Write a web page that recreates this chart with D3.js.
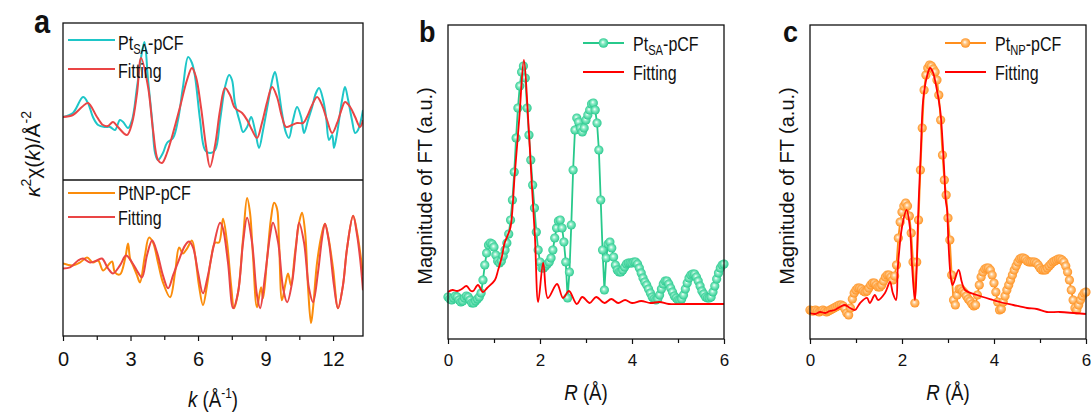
<!DOCTYPE html>
<html>
<head>
<meta charset="utf-8">
<script src="https://d3js.org/d3.v7.min.js"></script>
<style>
body { margin: 0; background: #fff; }
text { font-family: "Liberation Sans", Arial, sans-serif; }
</style>
</head>
<body>
<div id="chart"></div>
<script>
// ---- panel a : k-space, Pt_SA-pCF (top) and PtNP-pCF (bottom)
var kSA = [0,0.44,0.89,1.11,1.33,1.56,1.87,2.09,2.31,2.53,2.67,2.89,3.07,3.29,3.51,3.62,3.78,3.96,4.09,4.22,4.44,4.62,4.89,5.11,5.33,5.56,5.73,5.87,6.09,6.31,6.53,6.76,6.98,7.2,7.38,7.51,7.64,7.87,8.0,8.18,8.36,8.53,8.71,8.89,9.11,9.33,9.42,9.56,9.73,9.91,10.04,10.22,10.4,10.58,10.71,10.89,11.07,11.24,11.38,11.56,11.69,11.82,11.96,12.04,12.18,12.4,12.53,12.67,12.84,12.98,13.11,13.33];
var chiSA = [-1.6,-1.2,0.4,-0.2,-1.6,-2.4,-2.6,-2.6,-2.9,-1.9,-2.1,-2.7,-1.9,1.4,4.9,5.9,2.1,-1.9,-5.2,-5.9,-5.2,-4.2,-3.7,-1.9,1.4,4.4,3.8,2.4,-1.9,-4.9,-5.2,-4.9,-1.9,1.4,2.6,2.1,-0.2,-2.2,-3.1,-2.6,-1.6,-2.9,-4.7,-2.9,-0.2,2.4,2.9,1.4,-1.2,-3.2,-3.7,-1.9,-0.6,-1.6,-3.2,-1.9,-0.6,0.8,1.3,0.1,-1.6,-3.9,-3.4,-4.7,-3.2,0.1,1.4,0.1,-1.9,-3.2,-2.9,-0.9];
var kSAFit = [0,0.44,0.84,1.11,1.51,1.78,2.0,2.22,2.44,2.84,3.07,3.29,3.47,3.78,4.0,4.22,4.4,4.62,4.89,5.2,5.51,5.73,5.91,6.13,6.36,6.53,6.76,6.98,7.2,7.42,7.64,7.96,8.18,8.4,8.62,8.84,9.07,9.29,9.51,9.73,9.91,10.18,10.4,10.67,10.84,11.07,11.29,11.51,11.73,11.96,12.18,12.4,12.53,12.76,12.98,13.2,13.33];
var chiSAFit = [-1.6,-1.4,-0.6,-0.2,-1.6,-2.4,-2.5,-2.1,-2.6,-3.4,-2.2,0.8,4.3,1.4,-2.9,-5.9,-6.2,-5.2,-3.2,-0.6,2.1,3.3,2.4,-0.6,-4.6,-6.6,-4.4,-0.9,1.3,0.6,-0.7,-1.2,-1.9,-2.9,-3.7,-2.2,-0.1,1.4,0.4,-1.6,-2.6,-2.4,-2.2,-2.2,-1.6,-0.4,0.4,-0.4,-1.9,-3.2,-2.2,-0.7,-0.1,-0.6,-1.6,-2.6,-1.9];
var kNP = [0,0.44,0.76,1.07,1.33,1.56,1.78,2.0,2.18,2.31,2.53,2.76,2.89,2.98,3.11,3.29,3.42,3.64,3.82,4.0,4.22,4.44,4.76,4.98,5.16,5.33,5.51,5.73,5.87,6.04,6.22,6.4,6.58,6.76,6.93,7.11,7.29,7.47,7.6,7.78,8.0,8.18,8.31,8.44,8.62,8.8,8.89,9.07,9.24,9.38,9.51,9.6,9.73,9.87,10.0,10.13,10.31,10.49,10.62,10.76,10.89,11.02,11.11,11.29,11.51,11.64,11.78,12.0,12.22,12.44,12.62,12.89,13.07,13.24,13.33];
var chiNP = [-0.6,-0.8,-0.5,0,-0.5,-0.3,-1.3,-0.8,-0.4,-1.5,-1.7,-0.1,1.4,-0.1,-0.8,-1.8,-2.5,0.2,2.0,1.5,-0.5,-2.5,-4.0,-1.5,1.0,0.4,0.9,1.7,0.2,-2.8,-4.8,-2.8,-0.1,1.5,1.5,3.9,1.5,-2.8,-5.1,-3.5,1.9,6.0,4.5,0.2,-5.0,-3.0,-4.1,-0.1,3.9,5.5,4.9,1.5,-4.3,-2.8,-1.6,-2.8,0.5,3.5,4.5,2.5,-3.1,-6.6,-5.1,-0.5,2.5,3.4,2.2,-1.1,-5.1,-2.8,0.9,4.2,2.5,-0.1,-1.8];
var kNPFit = [0,0.31,0.67,0.89,1.2,1.51,1.73,2.0,2.22,2.53,2.8,3.07,3.33,3.51,3.73,3.96,4.18,4.44,4.67,4.89,5.11,5.42,5.6,5.78,6.0,6.22,6.44,6.67,6.98,7.11,7.33,7.56,7.78,8.0,8.18,8.4,8.62,8.76,8.98,9.2,9.33,9.56,9.78,9.96,10.18,10.36,10.49,10.71,10.93,11.11,11.33,11.51,11.64,11.82,12.04,12.22,12.44,12.62,12.89,13.07,13.2,13.33];
var chiNPFit = [-1.1,-1.0,-0.3,-0.1,-0.5,-0.3,-0.1,-1.1,-1.6,-0.8,0.2,-0.5,-1.5,-2.0,0.2,1.7,0.5,-1.8,-3.1,-1.8,-0.5,1.2,1.6,1.0,-1.5,-3.6,-1.8,0.9,3.5,2.9,-0.5,-5.1,-3.5,1.5,4.0,1.5,-3.8,-5.1,-1.8,2.2,3.5,1.5,-3.1,-4.5,-2.5,1.2,3.5,1.5,-3.1,-4.5,-1.5,1.9,3.4,1.5,-2.8,-5.1,-2.8,0.9,4.2,2.2,-0.1,-3.3];
var kTicks = [0, 3, 6, 9, 12];
var kMinor = [1.5, 4.5, 7.5, 10.5];

// ---- panels b, c : R-space, measured on a 0.04 A grid from R = 0
var rStep = 0.04;
var ftSA = [
  4.2,4.0,3.9,4.1,4.3,4.2,3.9,3.7,3.8,4.1,4.3,4.2,3.9,3.6,3.6,3.8,4.0,4.2,4.6,5.9,7.4,8.6,9.4,9.6,9.5,
  9.2,8.4,7.8,7.6,7.8,8.3,8.9,9.6,10.5,11.9,13.9,16.7,20.1,23.1,25.3,26.7,27.3,26.1,23.1,20.4,17.9,15.4,13.1,10.7,8.9,
  7.7,7.1,7.1,7.3,7.5,7.7,8.1,8.9,10.1,11.1,11.8,11.9,11.1,9.7,7.7,4.1,6.7,11.4,16.9,20.9,22.1,21.7,21.1,20.7,21.1,
  21.9,22.4,22.9,23.5,23.6,22.9,21.6,18.9,13.9,8.9,4.9,8.1,9.5,9.7,9.1,8.2,7.4,6.9,6.7,6.7,6.9,7.2,7.5,7.6,7.6,
  7.6,7.7,7.7,7.5,7.1,6.6,6.1,5.7,5.4,5.0,4.6,4.2,4.0,3.9,4.0,4.4,5.0,5.5,5.8,5.8,5.5,5.1,4.7,4.3,4.1,
  3.9,3.9,4.0,4.4,5.0,5.6,6.1,6.4,6.5,6.5,6.2,5.8,5.3,4.8,4.5,4.2,4.1,4.1,4.2,4.7,5.3,6.0,6.6,7.1,7.4,
  7.5];
var rSAFit = [0,0.1,0.2,0.3,0.4,0.5,0.55,0.65,0.76,0.85,1.02,1.09,1.17,1.23,1.3,1.36,1.45,1.55,1.65,1.74,1.82,1.89,1.96,2.07,2.17,2.37,2.5,2.63,2.8,2.92,3.08,3.22,3.4,3.55,3.7,3.85,4.0,4.2,4.4,4.6,4.8,5.2,6.0];
var ftSAFit = [4.7,4.9,4.8,5.0,5.3,4.8,4.8,5.4,4.7,5.1,5.9,6.9,8.2,9.6,10.4,11.2,16.4,22.1,27.9,22.2,15.6,10.2,3.7,7.6,4.1,5.5,4.1,4.8,3.5,4.2,3.6,4.2,3.6,4.0,3.6,3.9,3.6,3.8,3.6,3.7,3.5,3.5,3.5];
var ftNP = [
  2.9,2.8,2.8,2.9,2.8,2.7,2.8,2.9,2.8,2.7,2.8,2.9,3.0,3.1,3.2,3.3,3.4,3.4,3.3,3.0,2.6,2.4,3.1,4.0,4.6,
  4.9,5.1,5.1,5.0,4.8,4.7,4.8,5.1,5.4,5.6,5.6,5.4,5.2,5.2,5.4,5.8,6.2,6.4,6.4,6.2,5.9,6.3,7.4,10.1,11.7,
  12.7,13.3,13.6,13.3,12.3,10.6,7.7,3.6,7.7,11.9,16.9,21.1,24.9,26.4,27.1,27.4,27.3,27.0,26.7,25.9,24.4,21.9,18.4,15.9,14.4,
  12.1,9.9,6.4,3.9,3.4,4.4,5.0,5.0,4.8,4.6,4.3,4.0,3.8,3.5,3.3,3.4,4.4,5.4,6.2,6.7,7.0,7.1,7.1,6.9,6.4,
  5.6,4.7,3.7,2.9,3.0,3.7,4.3,4.9,5.4,5.9,6.4,6.9,7.3,7.7,8.0,8.1,8.1,8.0,7.8,7.7,7.7,7.7,7.7,7.6,7.4,
  7.1,6.9,6.9,6.9,7.1,7.3,7.5,7.7,7.8,7.9,8.0,8.0,7.9,7.7,7.3,6.7,5.9,4.9,3.9,3.1,2.9,3.4,3.9,4.3,4.6,
  4.7];
var rNPFit = [0,0.11,0.22,0.33,0.43,0.54,0.65,0.76,0.87,0.98,1.09,1.24,1.3,1.41,1.48,1.63,1.74,1.8,1.87,1.91,2.0,2.1,2.17,2.22,2.28,2.32,2.35,2.37,2.41,2.46,2.54,2.61,2.67,2.73,2.83,2.88,2.92,2.95,2.98,3.01,3.06,3.1,3.23,3.3,3.37,3.63,3.98,4.13,4.42,4.72,4.93,5.15,5.43,6.0];
var ftNPFit = [2.6,2.5,2.7,2.6,2.8,2.9,3.2,3.4,3.1,2.9,3.6,4.1,3.6,4.4,3.9,4.6,5.7,4.6,3.9,7.2,11.2,12.9,11.2,7.2,3.9,7.2,12.2,14.6,18.9,23.9,26.2,27.1,26.7,25.6,22.9,19.9,16.6,13.9,12.9,9.6,6.2,5.4,6.9,5.7,4.9,4.4,3.9,3.7,3.4,3.1,3.0,2.7,2.7,2.5];
var rTicks = [0, 2, 4, 6];
var rMinor = [1, 3, 5];

var W = 1091, H = 413;
var svg = d3.select("#chart").append("svg").attr("width", W).attr("height", H);
var defs = svg.append("defs");

function ball(id, light, base) {
    var g = defs.append("radialGradient").attr("id", id)
        .attr("cx", "50%").attr("cy", "50%").attr("r", "55%")
        .attr("fx", "42%").attr("fy", "40%");
    g.append("stop").attr("offset", "0%").attr("stop-color", "#ffffff");
    g.append("stop").attr("offset", "35%").attr("stop-color", light);
    g.append("stop").attr("offset", "100%").attr("stop-color", base);
}
ball("ballGreen", "#8cecc6", "#1dc588");
ball("ballOrange", "#ffc98a", "#ff8a12");

// text squeezed horizontally like the original artwork
function label(x, y, size, sx, anchor) {
    return svg.append("text")
        .attr("transform", "translate(" + x + "," + y + ") scale(" + sx + ",1)")
        .attr("font-size", size)
        .attr("text-anchor", anchor || "start")
        .attr("fill", "#111");
}

function bottomAxis(x, y0, major, minor, fontSize, pad) {
    var gm = svg.append("g").attr("transform", "translate(0," + y0 + ")")
        .call(d3.axisBottom(x).tickValues(minor).tickSize(4).tickFormat(""));
    gm.select(".domain").remove();
    var g = svg.append("g").attr("transform", "translate(0," + y0 + ")")
        .call(d3.axisBottom(x).tickValues(major).tickSize(5).tickPadding(pad).tickFormat(d3.format("d")));
    g.select(".domain").remove();
    g.attr("font-family", null).attr("font-size", null);
    g.selectAll("text").attr("font-size", fontSize).attr("fill", "#111");
    svg.selectAll(".tick line").attr("stroke", "#111").attr("stroke-width", 1.2);
}

// =============== panel a =================
var ax = d3.scaleLinear().domain([0, 13.33]).range([63, 363]);
var ayTop = d3.scaleLinear().domain([-7.9, 7.8]).range([180, 23]);
var ayBot = d3.scaleLinear().domain([-7.9, 7.8]).range([336, 180]);

defs.append("clipPath").attr("id", "clipTop").append("rect")
    .attr("x", 63).attr("y", 23).attr("width", 300).attr("height", 157);
defs.append("clipPath").attr("id", "clipBot").append("rect")
    .attr("x", 63).attr("y", 180).attr("width", 300).attr("height", 156);

function kLine(yScale) {
    return d3.line().x(function (d) { return ax(d[0]); })
        .y(function (d) { return yScale(d[1]); })
        .curve(d3.curveCatmullRom.alpha(0.5));
}
var gTop = svg.append("g").attr("clip-path", "url(#clipTop)");
gTop.append("path").datum(d3.zip(kSA, chiSA)).attr("d", kLine(ayTop))
    .attr("fill", "none").attr("stroke", "#1ec6c8").attr("stroke-width", 2);
gTop.append("path").datum(d3.zip(kSAFit, chiSAFit)).attr("d", kLine(ayTop))
    .attr("fill", "none").attr("stroke", "#ea4545").attr("stroke-width", 2);
var gBot = svg.append("g").attr("clip-path", "url(#clipBot)");
gBot.append("path").datum(d3.zip(kNP, chiNP)).attr("d", kLine(ayBot))
    .attr("fill", "none").attr("stroke", "#fb8c0a").attr("stroke-width", 2);
gBot.append("path").datum(d3.zip(kNPFit, chiNPFit)).attr("d", kLine(ayBot))
    .attr("fill", "none").attr("stroke", "#ea4545").attr("stroke-width", 2);

svg.append("rect").attr("x", 63).attr("y", 23).attr("width", 300).attr("height", 313)
    .attr("fill", "none").attr("stroke", "#111").attr("stroke-width", 1.3);
svg.append("line").attr("x1", 63).attr("x2", 363).attr("y1", 180).attr("y2", 180)
    .attr("stroke", "#111").attr("stroke-width", 1.3);
bottomAxis(ax, 336, kTicks, kMinor, 20, 11);

// legends a
svg.append("line").attr("x1", 68).attr("x2", 115).attr("y1", 40).attr("y2", 40)
    .attr("stroke", "#1ec6c8").attr("stroke-width", 2);
var t = label(118, 50, 20, 0.8);
t.append("tspan").text("Pt");
t.append("tspan").attr("font-size", 14).attr("dy", 4).text("SA");
t.append("tspan").attr("dy", -4).text("-pCF");
svg.append("line").attr("x1", 68).attr("x2", 115).attr("y1", 69).attr("y2", 69)
    .attr("stroke", "#ea4545").attr("stroke-width", 2);
label(118, 78, 20, 0.8).text("Fitting");
svg.append("line").attr("x1", 68).attr("x2", 115).attr("y1", 193).attr("y2", 193)
    .attr("stroke", "#fb8c0a").attr("stroke-width", 2);
label(118, 200, 20, 0.8).text("PtNP-pCF");
svg.append("line").attr("x1", 68).attr("x2", 115).attr("y1", 217).attr("y2", 217)
    .attr("stroke", "#ea4545").attr("stroke-width", 2);
label(118, 225, 20, 0.8).text("Fitting");

// axis titles a
var xt = label(213, 407, 22, 0.85, "middle");
xt.append("tspan").attr("font-style", "italic").text("k");
xt.append("tspan").text(" (Å");
xt.append("tspan").attr("font-size", 14).attr("dy", -9).text("-1");
xt.append("tspan").attr("dy", 9).text(")");

var yt = svg.append("text").attr("transform", "translate(40,154) rotate(-90)")
    .attr("text-anchor", "middle").attr("font-size", 21).attr("fill", "#111");
yt.append("tspan").attr("font-style", "italic").text("κ");
yt.append("tspan").attr("font-size", 14).attr("dy", -9).text("2");
yt.append("tspan").attr("dy", 9).text("χ(");
yt.append("tspan").attr("font-style", "italic").text("k");
yt.append("tspan").text(")/Å");
yt.append("tspan").attr("font-size", 14).attr("dy", -9).text("-2");

label(34, 33, 34, 0.85).attr("font-weight", "bold").text("a");

// =============== panels b and c =================
function ftPanel(x0, x1, data, fitR, fitV, color, grad, legendName, legendSub, letter, letterX) {
    var x = d3.scaleLinear().domain([0, 6]).range([x0, x1]);
    var y = d3.scaleLinear().domain([0, 31.4]).range([339, 25]);
    var pts = data.map(function (v, i) { return [i * rStep, v]; });

    var line = d3.line().x(function (d) { return x(d[0]); }).y(function (d) { return y(d[1]); });
    svg.append("path").datum(pts).attr("d", line)
        .attr("fill", "none").attr("stroke", color).attr("stroke-width", 1.8);
    svg.append("g").selectAll("circle").data(pts).enter().append("circle")
        .attr("cx", function (d) { return x(d[0]); })
        .attr("cy", function (d) { return y(d[1]); })
        .attr("r", 4.6)
        .attr("fill", "url(#" + grad + ")");
    svg.append("path").datum(d3.zip(fitR, fitV))
        .attr("d", line.curve(d3.curveCatmullRom.alpha(0.5)))
        .attr("fill", "none").attr("stroke", "#ff0000").attr("stroke-width", 1.8);

    svg.append("rect").attr("x", x0).attr("y", 25).attr("width", x1 - x0).attr("height", 314)
        .attr("fill", "none").attr("stroke", "#111").attr("stroke-width", 1.3);
    bottomAxis(x, 339, rTicks, rMinor, 17, 10);

    // legend
    var lx = x0 + 135;
    svg.append("line").attr("x1", lx).attr("x2", lx + 41).attr("y1", 43).attr("y2", 43)
        .attr("stroke", color).attr("stroke-width", 1.8);
    svg.append("circle").attr("cx", lx + 20.5).attr("cy", 43).attr("r", 4.8)
        .attr("fill", "url(#" + grad + ")");
    var lt = label(lx + 50, 51, 20, 0.8);
    lt.append("tspan").text(legendName);
    lt.append("tspan").attr("font-size", 14).attr("dy", 4).text(legendSub);
    lt.append("tspan").attr("dy", -4).text("-pCF");
    svg.append("line").attr("x1", lx).attr("x2", lx + 41).attr("y1", 72).attr("y2", 72)
        .attr("stroke", "#ff0000").attr("stroke-width", 1.8);
    label(lx + 50, 80, 20, 0.8).text("Fitting");

    var xt = label((x0 + x1) / 2, 400, 22, 0.85, "middle");
    xt.append("tspan").attr("font-style", "italic").text("R");
    xt.append("tspan").text(" (Å)");
    svg.append("text").attr("transform", "translate(" + (x0 - 16) + ",186) rotate(-90)")
        .attr("text-anchor", "middle").attr("font-size", 20).attr("fill", "#111")
        .text("Magnitude of FT (a.u.)");
    label(letterX, 42, 30, 0.9).attr("font-weight", "bold").text(letter);
}

ftPanel(448, 724, ftSA, rSAFit, ftSAFit, "#27c98b", "ballGreen", "Pt", "SA", "b", 419);
ftPanel(810, 1086, ftNP, rNPFit, ftNPFit, "#ff8e1c", "ballOrange", "Pt", "NP", "c", 783);
</script>
</body>
</html>
